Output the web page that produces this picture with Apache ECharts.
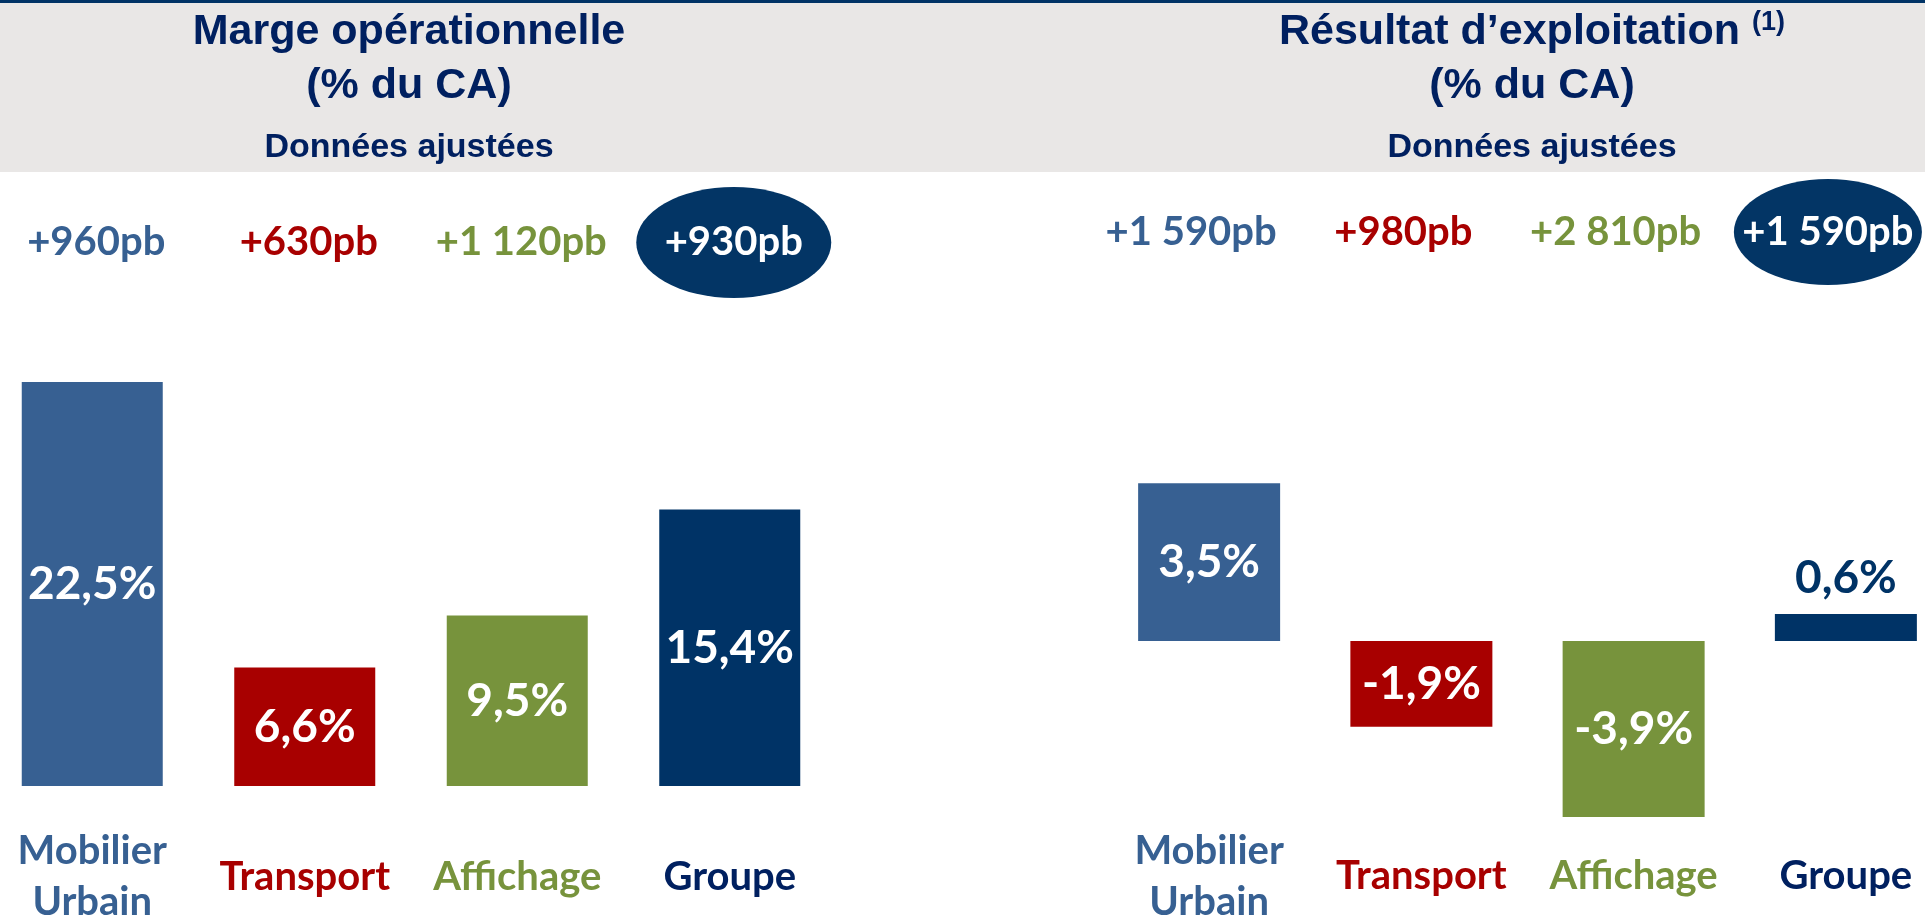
<!DOCTYPE html>
<html>
<head>
<meta charset="utf-8">
<script src="https://cdn.jsdelivr.net/npm/echarts@6/dist/echarts.min.js"></script>
<style>
  html, body { margin: 0; padding: 0; background: #ffffff; }
  #chart { width: 1925px; height: 918px; }
</style>
</head>
<body>
<div id="chart"></div>
<script>
// ---- Data ----
const categories = ['Mobilier\nUrbain', 'Transport', 'Affichage', 'Groupe'];
const margeValues = [22.5, 6.6, 9.5, 15.4];
const resultatValues = [3.5, -1.9, -3.9, 0.6];
const margeDeltas = ['+960pb', '+630pb', '+1 120pb', '+930pb'];
const resultatDeltas = ['+1 590pb', '+980pb', '+2 810pb', '+1 590pb'];
const titleLeft = ['Marge opérationnelle', '(% du CA)'];
const titleRight = ['Résultat d’exploitation', '(1)', '(% du CA)'];
const subtitle = 'Données ajustées';

// ---- Styles ----
const barColors = ['#376092', '#A80000', '#77933C', '#003366'];
const textColors = ['#376092', '#A80000', '#77933C', '#002060'];
const navy = '#002060';
const ellipseColor = '#033565';
const labelFont = 'Lato, "Open Sans", sans-serif';
const titleFont = '"Liberation Sans", Arial, sans-serif';

const fmtPct = v => v.toFixed(1).replace('.', ',') + '%';

const chart = echarts.init(document.getElementById('chart'));

function catAxis(gridIndex, margin, show) {
  return {
    type: 'category', gridIndex, data: categories, show: show,
    axisLine: { show: false, onZero: false }, axisTick: { show: false },
    splitLine: { show: false },
    axisLabel: {
      show: show, interval: 0, margin: margin, verticalAlign: 'middle',
      fontFamily: labelFont, fontWeight: 'bold', fontSize: 40, lineHeight: 51,
      color: (val, idx) => textColors[idx]
    }
  };
}

function deltaSeries(deltas, axisIndex, ellipseSize) {
  return {
    type: 'scatter', xAxisIndex: axisIndex, yAxisIndex: axisIndex, silent: true,
    clip: false,
    itemStyle: { opacity: 1 },
    data: deltas.map((d, i) => ({
      value: [i, 0],
      symbol: 'circle',
      symbolSize: i === 3 ? ellipseSize : 1,
      itemStyle: { color: i === 3 ? ellipseColor : 'rgba(0,0,0,0)', opacity: 1 },
      label: { color: i === 3 ? '#ffffff' : textColors[i], opacity: 1 }
    })),
    label: {
      show: true, position: 'inside', fontFamily: labelFont, fontWeight: 'bold', fontSize: 40,
      opacity: 1,
      formatter: p => deltas[p.dataIndex]
    }
  };
}

const option = {
  backgroundColor: '#ffffff',
  animation: false,
  graphic: [
    { type: 'rect', left: 0, top: 0, shape: { width: 1925, height: 172 }, style: { fill: '#E9E7E6' } },
    { type: 'rect', left: 0, top: 0, shape: { width: 1925, height: 3 }, style: { fill: '#003366' } },
    { type: 'text', x: 409, y: 32, style: { text: titleLeft[0], font: 'bold 43px ' + titleFont, fill: navy, align: 'center', verticalAlign: 'middle' } },
    { type: 'text', x: 409, y: 86, style: { text: titleLeft[1], font: 'bold 43px ' + titleFont, fill: navy, align: 'center', verticalAlign: 'middle' } },
    { type: 'text', x: 409, y: 148, style: { text: subtitle, font: 'bold 34px ' + titleFont, fill: navy, align: 'center', verticalAlign: 'middle' } },
    { type: 'text', x: 1532, y: 32, style: {
        text: '{m|' + titleRight[0] + ' }{s|' + titleRight[1] + '}', align: 'center', verticalAlign: 'middle',
        rich: {
          m: { font: 'bold 43px ' + titleFont, fill: navy, color: navy, lineHeight: 50 },
          s: { font: 'bold 27px ' + titleFont, fill: navy, color: navy, lineHeight: 50, verticalAlign: 'top', padding: [2, 0, 0, 0] }
        } } },
    { type: 'text', x: 1532, y: 86, style: { text: titleRight[2], font: 'bold 43px ' + titleFont, fill: navy, align: 'center', verticalAlign: 'middle' } },
    { type: 'text', x: 1532, y: 148, style: { text: subtitle, font: 'bold 34px ' + titleFont, fill: navy, align: 'center', verticalAlign: 'middle' } }
  ],
  grid: [
    { left: -14, width: 850, top: 337, height: 449, outerBoundsMode: 'none', containLabel: false },
    { left: 1103, width: 849, top: 415.5, height: 451, outerBoundsMode: 'none', containLabel: false },
    { left: -10, width: 850, top: 187, height: 111, outerBoundsMode: 'none', containLabel: false },
    { left: 1085, width: 849, top: 179, height: 106, outerBoundsMode: 'none', containLabel: false }
  ],
  xAxis: [
    catAxis(0, 91, true),
    catAxis(1, 10, true),
    catAxis(2, 0, false),
    catAxis(3, 0, false)
  ],
  yAxis: [
    { type: 'value', gridIndex: 0, min: 0, max: 25, show: false, splitLine: { show: false } },
    { type: 'value', gridIndex: 1, min: -5, max: 5, show: false, splitLine: { show: false } },
    { type: 'value', gridIndex: 2, min: -1, max: 1, show: false, splitLine: { show: false } },
    { type: 'value', gridIndex: 3, min: -1, max: 1, show: false, splitLine: { show: false } }
  ],
  series: [
    {
      type: 'bar', xAxisIndex: 0, yAxisIndex: 0, barWidth: 141, silent: true,
      data: margeValues.map((v, i) => ({ value: v, itemStyle: { color: barColors[i] } })),
      label: {
        show: true, position: 'inside', color: '#ffffff', fontFamily: labelFont, fontWeight: 'bold', fontSize: 46,
        formatter: p => fmtPct(p.value)
      }
    },
    {
      type: 'bar', xAxisIndex: 1, yAxisIndex: 1, barWidth: 142, silent: true,
      data: resultatValues.map((v, i) => ({
        value: v, itemStyle: { color: barColors[i] },
        label: i === 3 ? { position: 'top', distance: 13, color: barColors[3] } : {}
      })),
      label: {
        show: true, position: 'inside', color: '#ffffff', fontFamily: labelFont, fontWeight: 'bold', fontSize: 46,
        formatter: p => fmtPct(p.value)
      }
    },
    deltaSeries(margeDeltas, 2, [195, 111]),
    deltaSeries(resultatDeltas, 3, [188, 106])
  ]
};

chart.setOption(option);
</script>
</body>
</html>
